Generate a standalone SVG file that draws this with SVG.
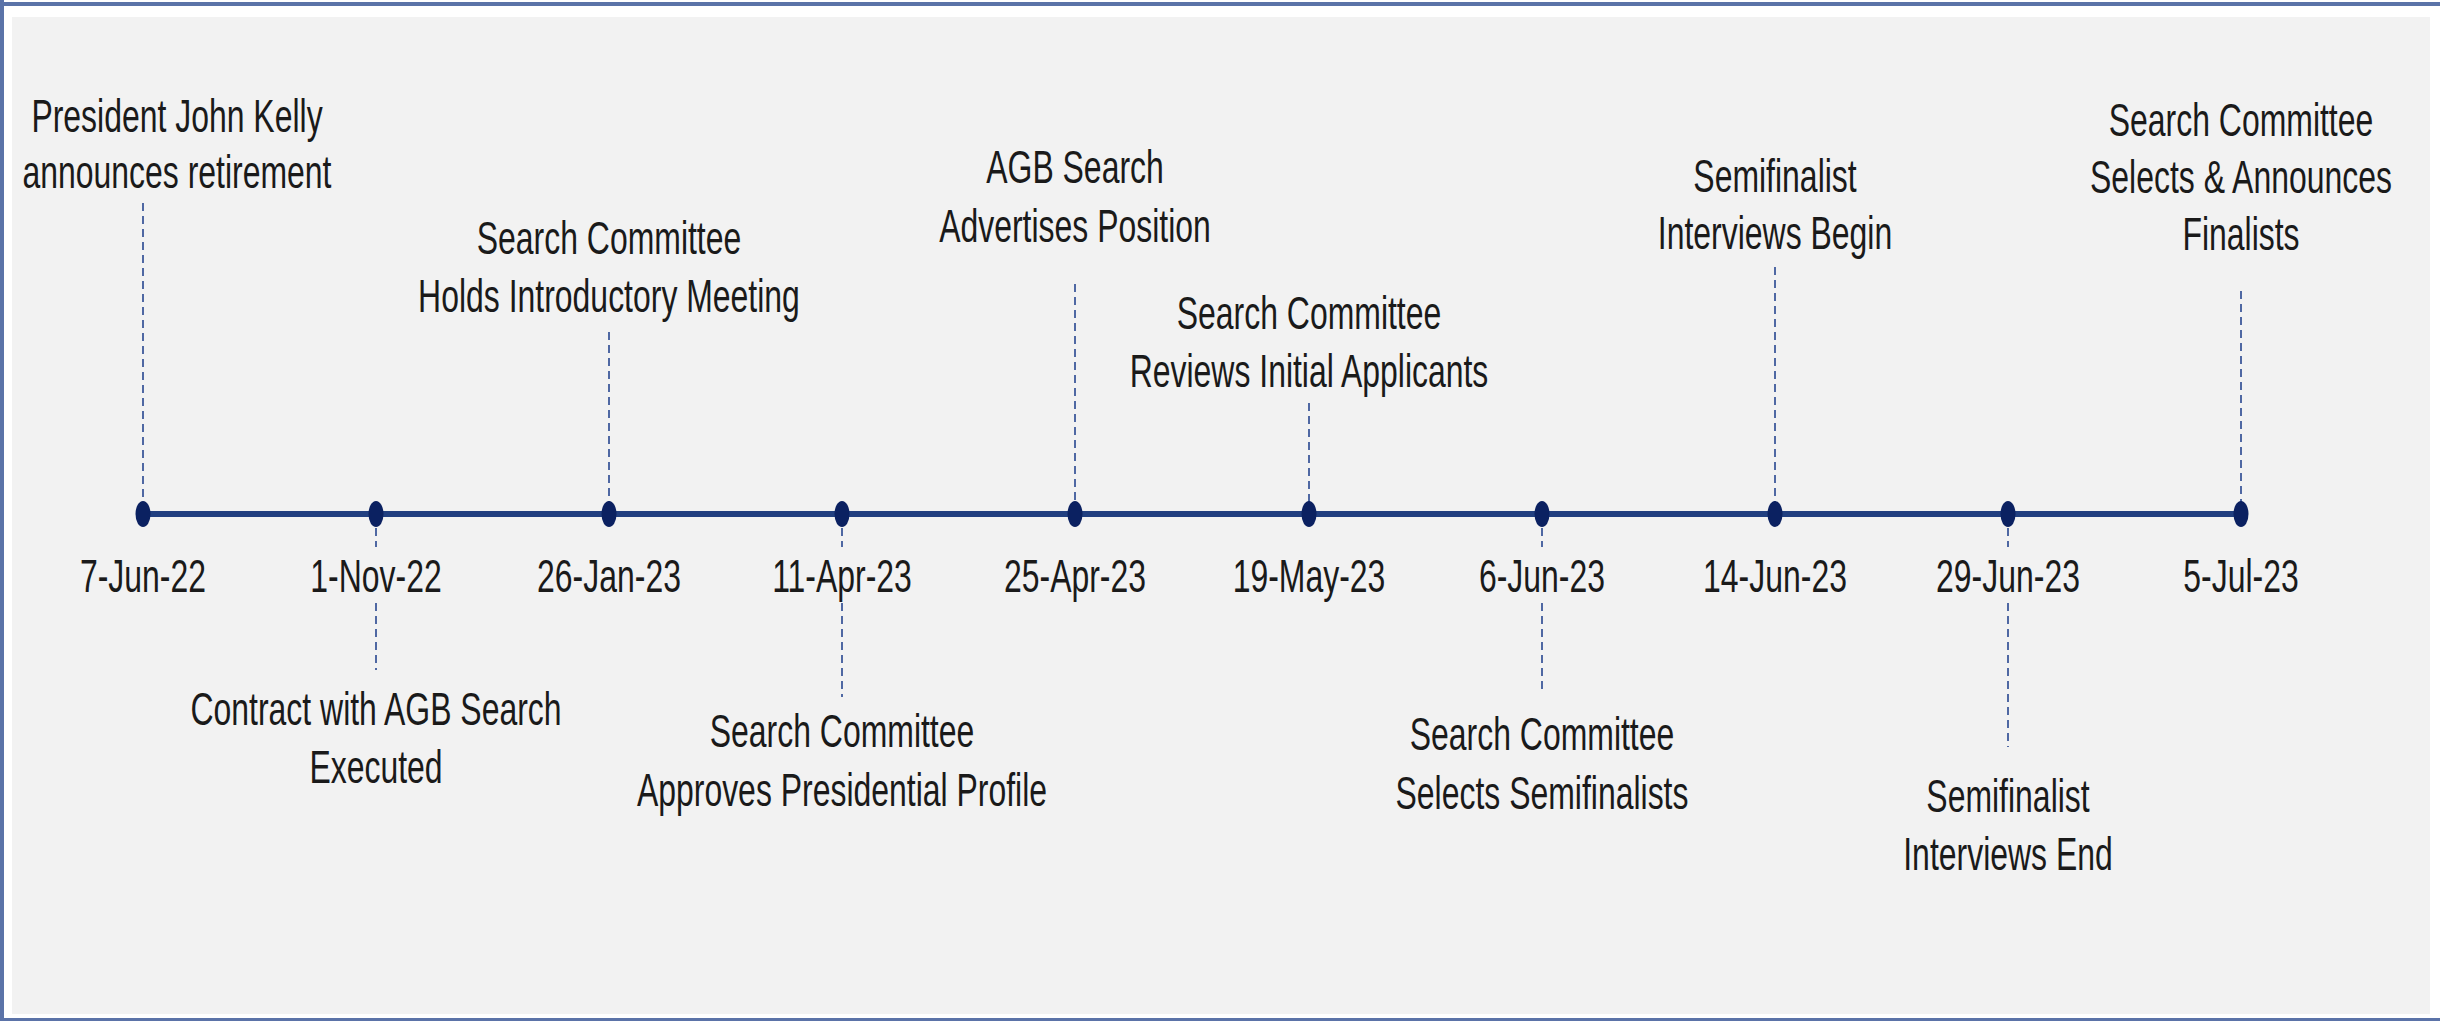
<svg xmlns="http://www.w3.org/2000/svg" width="2440" height="1021" viewBox="0 0 2440 1021">
  <style>
    .lbl { font-family: "Liberation Sans", Arial, sans-serif; font-size: 47px; fill: #1a1a1a; text-anchor: middle; }
    .dash { stroke: #4f68a3; stroke-width: 2; stroke-dasharray: 8 5; fill: none; }
    .dot { fill: #0b2161; }
    .axis { stroke: #213f80; stroke-width: 6; }
  </style>
  <rect x="0" y="0" width="2440" height="1021" fill="#ffffff"/>
  <rect x="0" y="0" width="4" height="1021" fill="#5b73a8"/>
  <rect x="0" y="2" width="2440" height="4" fill="#5b73a8"/>
  <rect x="0" y="1018" width="2440" height="3" fill="#5b73a8"/>
  <rect x="12" y="17" width="2418" height="997" fill="#f2f2f2"/>

  <g id="connectors">
    <line class="axis" x1="143" y1="514" x2="2241" y2="514"/>
    <path class="dash" d="M143 203 V514"/>
    <path class="dash" d="M376 528 V547 M376 603 V670"/>
    <path class="dash" d="M609 332 V514"/>
    <path class="dash" d="M842 528 V547 M842 603 V697"/>
    <path class="dash" d="M1075 284 V514"/>
    <path class="dash" d="M1309 403 V514"/>
    <path class="dash" d="M1542 528 V547 M1542 603 V693"/>
    <path class="dash" d="M1775 267 V514"/>
    <path class="dash" d="M2008 528 V547 M2008 603 V747"/>
    <path class="dash" d="M2241 291 V514"/>
  </g>

  <g id="n1">
    <ellipse class="dot" cx="143" cy="514" rx="7.5" ry="13"/>
    <g transform="matrix(0.68 0 0 1 143 0)">
      <text class="lbl" x="0" y="592">7-Jun-22</text>
    </g>
    <g transform="matrix(0.68 0 0 1 177 0)">
      <text class="lbl" x="0" y="132">President John Kelly</text>
      <text class="lbl" x="0" y="188">announces retirement</text>
    </g>
  </g>
  <g id="n2">
    <ellipse class="dot" cx="376" cy="514" rx="7.5" ry="13"/>
    <g transform="matrix(0.68 0 0 1 376 0)">
      <text class="lbl" x="0" y="592">1-Nov-22</text>
      <text class="lbl" x="0" y="725">Contract with AGB Search</text>
      <text class="lbl" x="0" y="783">Executed</text>
    </g>
  </g>
  <g id="n3">
    <ellipse class="dot" cx="609" cy="514" rx="7.5" ry="13"/>
    <g transform="matrix(0.68 0 0 1 609 0)">
      <text class="lbl" x="0" y="592">26-Jan-23</text>
      <text class="lbl" x="0" y="254">Search Committee</text>
      <text class="lbl" x="0" y="312">Holds Introductory Meeting</text>
    </g>
  </g>
  <g id="n4">
    <ellipse class="dot" cx="842" cy="514" rx="7.5" ry="13"/>
    <g transform="matrix(0.68 0 0 1 842 0)">
      <text class="lbl" x="0" y="592">11-Apr-23</text>
      <text class="lbl" x="0" y="747">Search Committee</text>
      <text class="lbl" x="0" y="806">Approves Presidential Profile</text>
    </g>
  </g>
  <g id="n5">
    <ellipse class="dot" cx="1075" cy="514" rx="7.5" ry="13"/>
    <g transform="matrix(0.68 0 0 1 1075 0)">
      <text class="lbl" x="0" y="592">25-Apr-23</text>
      <text class="lbl" x="0" y="183">AGB Search</text>
      <text class="lbl" x="0" y="242">Advertises Position</text>
    </g>
  </g>
  <g id="n6">
    <ellipse class="dot" cx="1309" cy="514" rx="7.5" ry="13"/>
    <g transform="matrix(0.68 0 0 1 1309 0)">
      <text class="lbl" x="0" y="592">19-May-23</text>
      <text class="lbl" x="0" y="329">Search Committee</text>
      <text class="lbl" x="0" y="387">Reviews Initial Applicants</text>
    </g>
  </g>
  <g id="n7">
    <ellipse class="dot" cx="1542" cy="514" rx="7.5" ry="13"/>
    <g transform="matrix(0.68 0 0 1 1542 0)">
      <text class="lbl" x="0" y="592">6-Jun-23</text>
      <text class="lbl" x="0" y="750">Search Committee</text>
      <text class="lbl" x="0" y="809">Selects Semifinalists</text>
    </g>
  </g>
  <g id="n8">
    <ellipse class="dot" cx="1775" cy="514" rx="7.5" ry="13"/>
    <g transform="matrix(0.68 0 0 1 1775 0)">
      <text class="lbl" x="0" y="592">14-Jun-23</text>
      <text class="lbl" x="0" y="192">Semifinalist</text>
      <text class="lbl" x="0" y="249">Interviews Begin</text>
    </g>
  </g>
  <g id="n9">
    <ellipse class="dot" cx="2008" cy="514" rx="7.5" ry="13"/>
    <g transform="matrix(0.68 0 0 1 2008 0)">
      <text class="lbl" x="0" y="592">29-Jun-23</text>
      <text class="lbl" x="0" y="812">Semifinalist</text>
      <text class="lbl" x="0" y="870">Interviews End</text>
    </g>
  </g>
  <g id="n10">
    <ellipse class="dot" cx="2241" cy="514" rx="7.5" ry="13"/>
    <g transform="matrix(0.68 0 0 1 2241 0)">
      <text class="lbl" x="0" y="592">5-Jul-23</text>
      <text class="lbl" x="0" y="136">Search Committee</text>
      <text class="lbl" x="0" y="193">Selects &amp; Announces</text>
      <text class="lbl" x="0" y="250">Finalists</text>
    </g>
  </g>
</svg>
